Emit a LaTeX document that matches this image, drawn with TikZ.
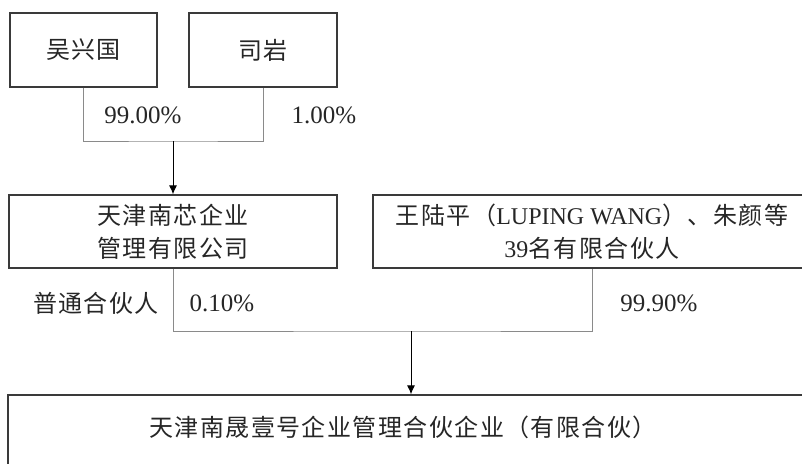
\documentclass[tikz,border=0pt]{standalone}
\usepackage{fontspec}
\setmainfont{Liberation Serif}
\newfontfamily\cjk[LetterSpace=6]{Noto Sans CJK SC}
\usetikzlibrary{arrows.meta}
\definecolor{txt}{HTML}{262626}
\definecolor{bord}{HTML}{3A3A3A}
\definecolor{conn}{HTML}{8A8A8A}
\tikzset{
  box/.style={draw=bord, line width=1.4pt, rectangle, inner sep=0pt, align=center, text=txt,
    font=\fontsize{24}{33}\selectfont},
  lbl/.style={inner sep=0pt, text=txt, font=\fontsize{25}{30}\selectfont},
  link/.style={draw=conn, line width=1pt},
  arr/.style={draw=black, line width=0.9pt, -{Latex[length=9pt,width=8pt]}},
}
\begin{document}
\begin{tikzpicture}[x=1pt,y=-1pt]
\useasboundingbox (0,0) rectangle (802,463);
\clip (0,0) rectangle (802,463);
% boxes
\node[box, minimum width=147pt, minimum height=74pt] (wu) at (83.5,50) {\cjk 吴兴国};
\node[box, minimum width=148pt, minimum height=74pt] (si) at (263,50) {\cjk 司岩};
\node[box, minimum width=328pt, minimum height=73pt] (nx) at (173,231.5) {\cjk 天津南芯企业\\\cjk 管理有限公司};
\node[box, minimum width=438pt, minimum height=73pt] (wang) at (592,231.5)
  {{\cjk 王陆平（}LUPING WANG{\cjk ）、朱颜等}\\39{\cjk 名有限合伙人}};
\node[box, minimum width=806pt, minimum height=80pt] (bot) at (411,435) {};
\node[lbl, font=\fontsize{24}{30}\selectfont] (bottxt) at (403,427) {\cjk 天津南晟壹号企业管理合伙企业（有限合伙）};
% labels
\node[lbl] (p1) at (143,115) {99.00\%};
\node[lbl] (p2) at (324,115) {1.00\%};
\node[lbl, font=\fontsize{24}{30}\selectfont] (gp) at (96,303) {\cjk 普通合伙人};
\node[lbl] (p3) at (222,303) {0.10\%};
\node[lbl] (p4) at (659,303) {99.90\%};
% connectors
\coordinate (j1) at (173,141);
\coordinate (j2) at (411,331);
\draw[link] (wu.south) |- (j1) -| (si.south);
\draw[arr] (j1) -- (nx.north);
\draw[link] (nx.south) |- (j2) -| (wang.south);
\draw[arr] (j2) -- (j2 |- bot.north);
\end{tikzpicture}
\end{document}
